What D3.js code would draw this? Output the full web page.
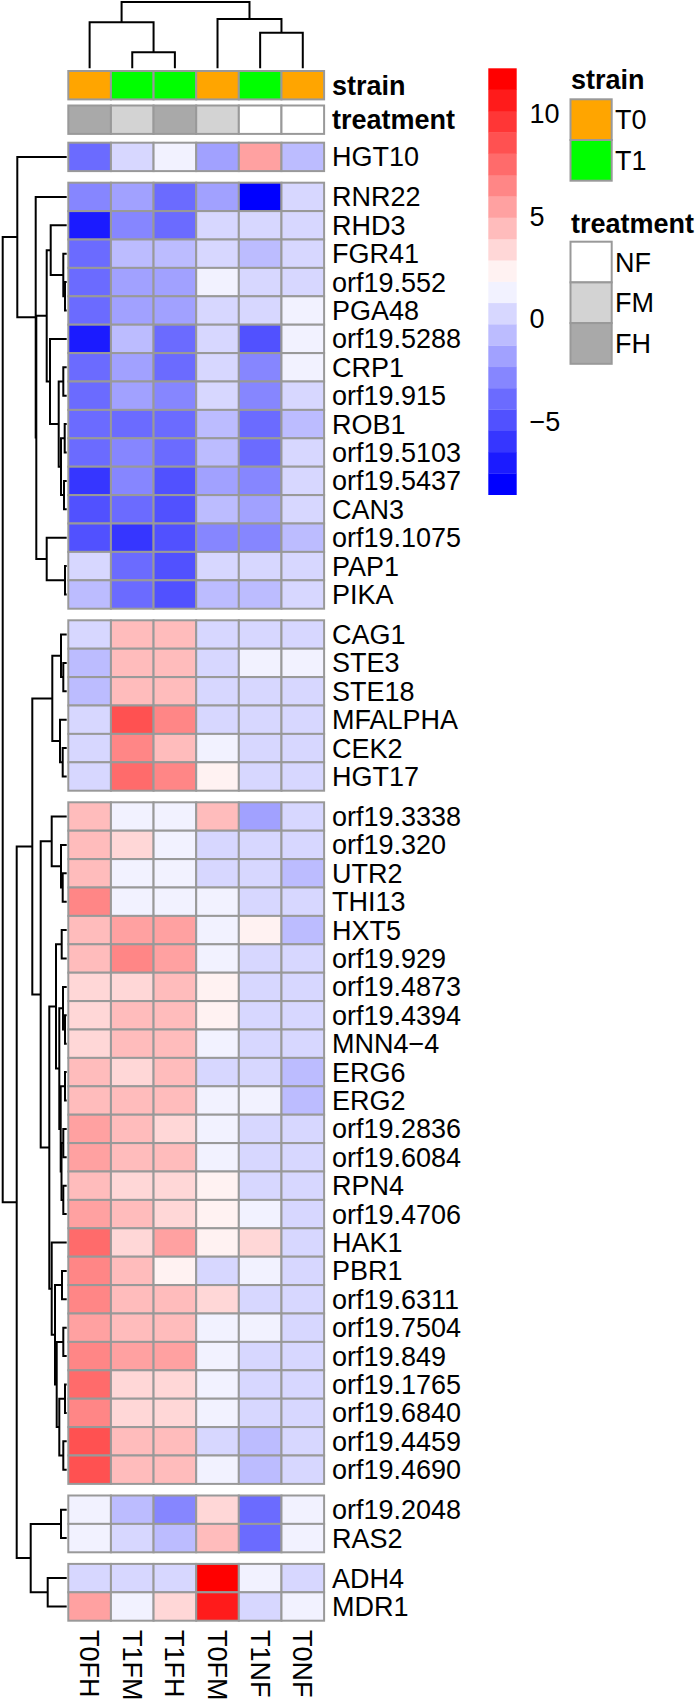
<!DOCTYPE html>
<html>
<head>
<meta charset="utf-8">
<script src="https://cdn.jsdelivr.net/npm/d3@7"></script>
<style>
  html, body { margin: 0; padding: 0; background: #fff; }
  text { font-family: "Liberation Sans", Arial, Helvetica, sans-serif; }
</style>
</head>
<body>
<script>
// ---------------- DATA ----------------
const colLabels = ["T0FH", "T1FM", "T1FH", "T0FM", "T1NF", "T0NF"];
const strain    = ["T0", "T1", "T1", "T0", "T1", "T0"];
const treatment = ["FH", "FM", "FH", "FM", "NF", "NF"];

const rowLabels = [
  "HGT10",
  "RNR22", "RHD3", "FGR41", "orf19.552", "PGA48", "orf19.5288", "CRP1", "orf19.915",
  "ROB1", "orf19.5103", "orf19.5437", "CAN3", "orf19.1075", "PAP1", "PIKA",
  "CAG1", "STE3", "STE18", "MFALPHA", "CEK2", "HGT17",
  "orf19.3338", "orf19.320", "UTR2", "THI13", "HXT5", "orf19.929", "orf19.4873",
  "orf19.4394", "MNN4\u22124", "ERG6", "ERG2", "orf19.2836", "orf19.6084", "RPN4",
  "orf19.4706", "HAK1", "PBR1", "orf19.6311", "orf19.7504", "orf19.849", "orf19.1765",
  "orf19.6840", "orf19.4459", "orf19.4690",
  "orf19.2048", "RAS2",
  "ADH4", "MDR1"
];

// rows after which a gap is drawn (cutree groups)
const rowGaps = [1, 16, 22, 46, 48];

// expression values (rows x columns, columns in colLabels order)
const values = [
  [-3.9,  0.2,  1.3, -1.8,  5.4, -0.8],   // HGT10
  [-2.9, -1.7, -3.9, -1.9, -8.55, 0.3],   // RNR22
  [-7.1, -2.8, -3.8,  0.2,  0.4,  0.3],   // RHD3
  [-3.8, -0.7, -0.9,  0.3, -0.6,  0.2],   // FGR41
  [-3.9, -1.8, -1.7,  1.2,  0.3,  0.4],   // orf19.552
  [-3.7, -1.9, -1.8,  0.3,  0.2,  1.4],   // PGA48
  [-7.2, -0.8, -3.9,  0.3, -4.8,  1.2],   // orf19.5288
  [-3.9, -1.7, -3.8,  0.2, -2.8,  1.3],   // CRP1
  [-3.8, -1.8, -2.9,  0.3, -2.7,  0.4],   // orf19.915
  [-4.2, -3.8, -3.9, -0.8, -4.0, -0.7],   // ROB1
  [-4.0, -2.9, -3.9, -0.8, -4.1,  0.2],   // orf19.5103
  [-6.1, -2.7, -4.9, -1.8, -2.8,  0.3],   // orf19.5437
  [-5.0, -3.8, -4.8, -0.7, -1.9,  0.2],   // CAN3
  [-4.9, -6.0, -4.8, -2.8, -2.9, -0.7],   // orf19.1075
  [ 0.3, -3.8, -4.9,  0.2,  0.4,  0.3],   // PAP1
  [-0.8, -3.9, -4.8, -0.7, -0.8,  0.2],   // PIKA
  [ 0.3,  4.3,  4.5,  0.2,  0.3,  0.4],   // CAG1
  [-0.8,  4.4,  4.3,  0.3,  1.2,  1.3],   // STE3
  [-0.7,  4.5,  4.4,  0.2,  0.3,  0.2],   // STE18
  [ 0.3,  8.6,  6.5,  0.2,  0.3,  0.4],   // MFALPHA
  [ 0.2,  6.4,  4.4,  1.3,  0.3,  0.2],   // CEK2
  [ 0.3,  7.5,  6.6,  2.3,  0.2,  0.3],   // HGT17
  [ 4.4,  1.3,  1.2,  4.5, -1.8,  0.3],   // orf19.3338
  [ 4.3,  3.4,  1.3,  0.2,  0.3,  0.3],   // orf19.320
  [ 4.4,  1.2,  1.3,  0.3,  0.2, -0.8],   // UTR2
  [ 6.5,  1.3,  1.2,  1.4,  0.3,  0.2],   // THI13
  [ 4.5,  5.4,  5.5,  1.2,  2.3, -0.7],   // HXT5
  [ 4.4,  6.4,  5.4,  1.3,  0.3,  0.2],   // orf19.929
  [ 3.4,  3.3,  4.4,  2.2,  0.3,  0.2],   // orf19.4873
  [ 3.3,  4.4,  4.3,  2.3,  0.2,  0.3],   // orf19.4394
  [ 3.4,  4.3,  4.4,  1.3,  0.3,  0.2],   // MNN4-4
  [ 4.3,  3.4,  4.4,  0.3,  0.2, -0.8],   // ERG6
  [ 4.4,  4.3,  4.5,  1.2,  1.3, -0.7],   // ERG2
  [ 5.4,  4.4,  3.4,  1.3,  0.3,  0.2],   // orf19.2836
  [ 5.5,  4.3,  4.4,  1.2,  0.2,  0.3],   // orf19.6084
  [ 4.5,  3.4,  3.3,  2.3,  0.3,  0.2],   // RPN4
  [ 5.4,  4.4,  3.4,  2.2,  1.3,  0.3],   // orf19.4706
  [ 7.5,  3.4,  5.5,  2.3,  3.3,  0.2],   // HAK1
  [ 6.5,  4.4,  2.3,  0.3,  1.2,  0.3],   // PBR1
  [ 6.4,  4.3,  4.4,  3.4,  0.2,  0.3],   // orf19.6311
  [ 5.4,  4.4,  4.3,  1.3,  1.2,  0.2],   // orf19.7504
  [ 6.5,  5.4,  5.5,  1.2,  0.3,  0.2],   // orf19.849
  [ 7.6,  3.4,  3.3,  1.3,  0.2,  0.3],   // orf19.1765
  [ 6.6,  3.3,  3.4,  1.2,  0.3,  0.2],   // orf19.6840
  [ 8.5,  4.4,  4.3,  0.3, -0.8,  0.2],   // orf19.4459
  [ 8.6,  4.3,  4.4,  1.3, -0.7,  0.3],   // orf19.4690
  [ 1.3, -0.8, -2.8,  3.4, -3.9,  1.2],   // orf19.2048
  [ 1.2,  0.3, -0.7,  4.4, -3.8,  1.3],   // RAS2
  [ 0.3,  0.2,  0.3, 12.19, 1.3,  0.4],   // ADH4
  [ 5.4,  1.2,  3.4, 10.7,  0.3,  1.3]    // MDR1
];

// hierarchical clustering trees: [mergeHeight, left, right]
const colTree = [66.3,
  [46, "T0FH", [16, "T1FM", "T1FH"]],
  [49.3, "T0FM", [35.6, "T1NF", "T0NF"]]
];

const rowTree = [64,
  [49.4, "HGT10",
    [31, "RNR22",
      [30.4,
        [20,
          [16, "RHD3", [3.4, "FGR41", [1.7, "orf19.552", "PGA48"]]],
          [16.7, "orf19.5288",
            [8, [3.4, "CRP1", "orf19.915"],
                [5.7, [2, "ROB1", "orf19.5103"], [2.7, "orf19.5437", "CAN3"]]]]
        ],
        [20, "orf19.1075", [1.7, "PAP1", "PIKA"]]
      ]
    ]
  ],
  [50,
    [34.4,
      [14.4,
        [5.7, "CAG1", [3.4, "STE3", "STE18"]],
        [6.7, "MFALPHA", [4, "CEK2", "HGT17"]]
      ],
      [26,
        [15, "orf19.3338", [5.7, "orf19.320", [4, "UTR2", "THI13"]]],
        [17.4,
          [10.7,
            [5, "HXT5", "orf19.929"],
            [7.4,
              [3.7, "orf19.4873", [1.7, "orf19.4394", "MNN4\u22124"]],
              [6, [1.7, "ERG6", "ERG2"],
                  [5.2, [3.4, "orf19.2836", "orf19.6084"], [3.4, "RPN4", "orf19.4706"]]]
            ]
          ],
          [15, "HAK1",
            [11.7,
              [4.7, "PBR1", "orf19.6311"],
              [10, [3.4, "orf19.7504", "orf19.849"],
                   [7.4, [1.7, "orf19.1765", "orf19.6840"], [3.4, "orf19.4459", "orf19.4690"]]]
            ]
          ]
        ]
      ]
    ],
    [36, [5.7, "orf19.2048", "RAS2"], [19, "ADH4", "MDR1"]]
  ]
];

const legendTicks = [10, 5, 0, -5];
const strainLevels = ["T0", "T1"];
const treatmentLevels = ["NF", "FM", "FH"];

// ---------------- STYLE / LAYOUT ----------------
const nColors = 20;
const ramp = d3.piecewise(d3.interpolateRgb, ["#0000FF", "#FFFFFF", "#FF0000"]);
const palette = d3.range(nColors).map(i => ramp(i / (nColors - 1)));
const strainColors = { T0: "#FFA500", T1: "#00FF00" };
const treatColors = { NF: "#FFFFFF", FM: "#D3D3D3", FH: "#A9A9A9" };
const borderCol = "#999999";
const FS = 27;

const W = 700, H = 1703;
const cellH = 28.4, gapH = 11.6;
const heatTop = 142.7, heatLeft = 68.3, heatRight = 324.1;

const svg = d3.select("body").append("svg")
  .attr("width", W).attr("height", H)
  .attr("viewBox", `0 0 ${W} ${H}`);
svg.append("rect").attr("width", W).attr("height", H).attr("fill", "#fff");

const vmin = d3.min(values.flat()), vmax = d3.max(values.flat());
const color = d3.scaleQuantize().domain([vmin, vmax]).range(palette);

const x = d3.scaleBand().domain(d3.range(colLabels.length)).range([heatLeft, heatRight]);
const rowBand = d3.scaleBand().domain(d3.range(rowLabels.length))
  .range([heatTop, heatTop + rowLabels.length * cellH]);
const yRow = i => rowBand(i) + rowGaps.filter(g => g <= i).length * gapH;

// ---------------- HEATMAP ----------------
const gHeat = svg.append("g");
values.forEach((row, i) => {
  row.forEach((v, j) => {
    gHeat.append("rect")
      .attr("x", x(j)).attr("y", yRow(i))
      .attr("width", x.bandwidth()).attr("height", rowBand.bandwidth())
      .attr("fill", color(v))
      .attr("stroke", borderCol).attr("stroke-width", 2);
  });
});

// row labels
svg.append("g").selectAll("text").data(rowLabels).join("text")
  .attr("x", 332)
  .attr("y", (d, i) => yRow(i) + rowBand.bandwidth() / 2)
  .attr("dy", "0.35em")
  .attr("font-size", FS)
  .attr("fill", "#000")
  .text(d => d);

// column labels (rotated)
svg.append("g").selectAll("text").data(colLabels).join("text")
  .attr("transform", (d, j) => `translate(${x(j) + x.bandwidth() / 2},1630) rotate(90)`)
  .attr("dy", "0.35em")
  .attr("font-size", FS)
  .attr("text-anchor", "start")
  .text(d => d);

// ---------------- COLUMN ANNOTATIONS ----------------
const annTracks = [
  { name: "strain", vals: strain, cols: strainColors, y: 71 },
  { name: "treatment", vals: treatment, cols: treatColors, y: 105.5 }
];
annTracks.forEach(t => {
  t.vals.forEach((v, j) => {
    svg.append("rect")
      .attr("x", x(j)).attr("y", t.y)
      .attr("width", x.bandwidth()).attr("height", cellH)
      .attr("fill", t.cols[v])
      .attr("stroke", borderCol).attr("stroke-width", 2);
  });
  svg.append("text")
    .attr("x", 332).attr("y", t.y + cellH / 2).attr("dy", "0.35em")
    .attr("font-size", FS).attr("font-weight", "bold")
    .text(t.name);
});

// ---------------- DENDROGRAMS ----------------
const rowIndex = new Map(rowLabels.map((d, i) => [d, i]));
const colIndex = new Map(colLabels.map((d, i) => [d, i]));

const rowHx = d3.scaleLinear().domain([0, 64]).range([66.7, 2.7]);
const colHy = d3.scaleLinear().domain([0, 66.3]).range([68.3, 2]);

const gRowTree = svg.append("g").attr("fill", "none").attr("stroke", "#000").attr("stroke-width", 2);
function drawRowTree(node) {
  if (typeof node === "string") {
    const i = rowIndex.get(node);
    return { pos: yRow(i) + rowBand.bandwidth() / 2, h: 0 };
  }
  const [h, l, r] = node;
  const a = drawRowTree(l), b = drawRowTree(r);
  gRowTree.append("path")
    .attr("d", `M${rowHx(a.h)},${a.pos}H${rowHx(h)}V${b.pos}H${rowHx(b.h)}`);
  return { pos: (a.pos + b.pos) / 2, h };
}
drawRowTree(rowTree);

const gColTree = svg.append("g").attr("fill", "none").attr("stroke", "#000").attr("stroke-width", 2);
function drawColTree(node) {
  if (typeof node === "string") {
    const j = colIndex.get(node);
    return { pos: x(j) + x.bandwidth() / 2, h: 0 };
  }
  const [h, l, r] = node;
  const a = drawColTree(l), b = drawColTree(r);
  gColTree.append("path")
    .attr("d", `M${a.pos},${colHy(a.h)}V${colHy(h)}H${b.pos}V${colHy(b.h)}`);
  return { pos: (a.pos + b.pos) / 2, h };
}
drawColTree(colTree);

// ---------------- COLOUR LEGEND ----------------
const legY = d3.scaleLinear().domain([vmin, vmax]).range([494.7, 68.3]);
const breaks = d3.range(nColors + 1).map(k => vmin + k * (vmax - vmin) / nColors);
const gLeg = svg.append("g");
palette.forEach((c, k) => {
  gLeg.append("rect")
    .attr("x", 488.3).attr("width", 28.4)
    .attr("y", legY(breaks[k + 1])).attr("height", legY(breaks[k]) - legY(breaks[k + 1]) + 0.3)
    .attr("fill", c);
});
gLeg.selectAll("text.tick").data(legendTicks).join("text")
  .attr("class", "tick")
  .attr("x", 529.5).attr("y", d => legY(d)).attr("dy", "0.35em")
  .attr("font-size", FS)
  .text(d => d3.format("")(d));

// ---------------- ANNOTATION LEGENDS ----------------
function annLegend(title, levels, cols, titleY, boxTop) {
  svg.append("text").attr("x", 571).attr("y", titleY)
    .attr("font-size", FS).attr("font-weight", "bold").text(title);
  const bandY = d3.scaleBand().domain(levels).range([boxTop, boxTop + levels.length * 40.7]);
  levels.forEach(l => {
    svg.append("rect")
      .attr("x", 570.5).attr("y", bandY(l))
      .attr("width", 41.2).attr("height", bandY.bandwidth())
      .attr("fill", cols[l]).attr("stroke", borderCol).attr("stroke-width", 2);
    svg.append("text")
      .attr("x", 615).attr("y", bandY(l) + bandY.bandwidth() / 2).attr("dy", "0.35em")
      .attr("font-size", FS).text(l);
  });
}
annLegend("strain", strainLevels, strainColors, 89, 99.3);
annLegend("treatment", treatmentLevels, treatColors, 232.5, 241.7);
</script>
</body>
</html>
